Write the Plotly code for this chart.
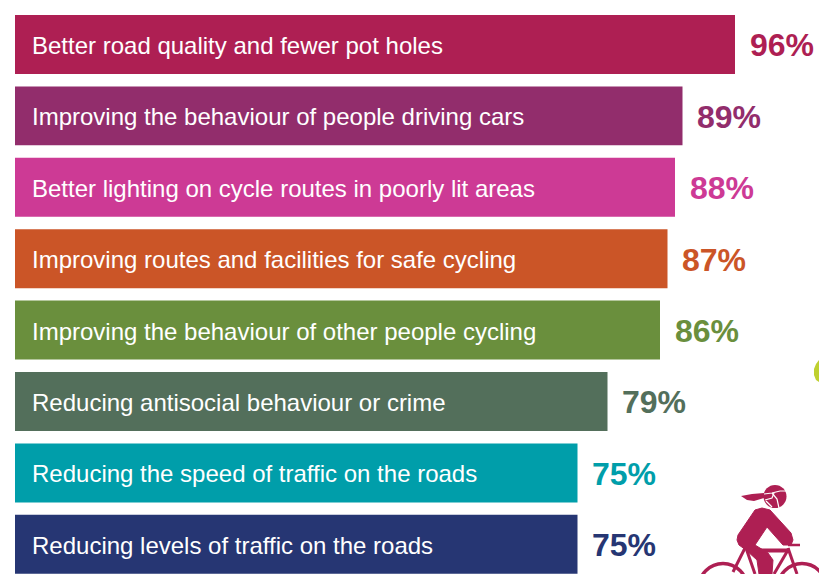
import plotly.graph_objects as go

categories = [
    "Better road quality and fewer pot holes",
    "Improving the behaviour of people driving cars",
    "Better lighting on cycle routes in poorly lit areas",
    "Improving routes and facilities for safe cycling",
    "Improving the behaviour of other people cycling",
    "Reducing antisocial behaviour or crime",
    "Reducing the speed of traffic on the roads",
    "Reducing levels of traffic on the roads",
]
values = [96, 89, 88, 87, 86, 79, 75, 75]
colors = ["#AE1F53", "#922D6C", "#CD3A95", "#CB5527", "#6A8F3D", "#536F5B", "#009EAA", "#263673"]

W, H = 819, 574
FONT = "Liberation Sans, Arial, sans-serif"
ICON = "#AE1F53"


def px(x, y):
    return f"{x / W:.5f},{1 - y / H:.5f}"


def path(points, close=True):
    d = "M" + " L".join(px(*p) for p in points)
    return d + (" Z" if close else "")


def circle(cx, cy, r, **kw):
    return dict(type="circle", xref="paper", yref="paper",
                x0=(cx - r) / W, x1=(cx + r) / W,
                y0=1 - (cy + r) / H, y1=1 - (cy - r) / H, **kw)


def poly(points, color=ICON, line=0, close=True, fill=True):
    return dict(type="path", xref="paper", yref="paper", path=path(points, close),
                fillcolor=color if fill else "rgba(0,0,0,0)",
                line=dict(color=color, width=line))


def stroke(points, width, color=ICON):
    return dict(type="path", xref="paper", yref="paper", path=path(points, False),
                line=dict(color=color, width=width))


shapes = [
    # lime blob at the right edge
    poly([(819, 360), (816, 364), (814, 369), (814, 375), (816, 380), (819, 382)], color="#BFD02F"),
    # wheels
    circle(723, 587.5, 24, fillcolor="rgba(0,0,0,0)", line=dict(color=ICON, width=3.5)),
    circle(802, 587.5, 24, fillcolor="rgba(0,0,0,0)", line=dict(color=ICON, width=3.5)),
    # frame
    stroke([(745, 548), (733, 572)], 3),
    stroke([(746, 548), (755, 574)], 3),
    stroke([(788, 548), (797, 574)], 3),
    stroke([(788, 550), (774, 574)], 3),
    # torso and arm
    poly([(755, 510), (762, 508), (770, 510), (791, 533), (793, 540), (791, 545), (783, 545),
          (767, 527), (755, 545), (768, 553), (773, 560), (772, 574), (759, 574),
          (757, 560), (746, 550), (739, 545), (737, 540), (738, 535)], line=1),
    # handlebar and top tube
    stroke([(755, 550.5), (790, 550.5)], 4),
    stroke([(788, 545), (800, 545)], 2.5),
    # head and helmet
    circle(775, 496.5, 11.5, fillcolor=ICON, line=dict(width=0)),
    stroke([(764, 494), (772, 493), (780, 491), (786, 491)], 1.2, "#FFFFFF"),
    stroke([(772, 493), (777, 499), (779, 508)], 1.2, "#FFFFFF"),
    stroke([(765, 500), (772, 498), (774, 493)], 1.2, "#FFFFFF"),
    stroke([(766, 501), (772, 507)], 1.2, "#FFFFFF"),
    # ponytail
    poly([(741, 496), (752, 494), (764, 493), (764, 498), (754, 501), (747, 500)]),
]

bars = go.Bar(
    y=list(range(len(values))), x=values, orientation="h",
    marker=dict(color=colors, line=dict(width=0)),
    width=0.826, hoverinfo="skip",
)

annotations = []
for i, (cat, val, col) in enumerate(zip(categories, values, colors)):
    annotations.append(dict(x=0, y=i, xref="x", yref="y", text=cat, showarrow=False,
                            xanchor="left", yanchor="middle", xshift=15, yshift=-1,
                            font=dict(family=FONT, size=24, color="#FFFFFF")))
    annotations.append(dict(x=val, y=i, xref="x", yref="y", text=f"<b>{val}%</b>", showarrow=False,
                            xanchor="left", yanchor="middle", xshift=12.5, yshift=-1,
                            font=dict(family=FONT, size=32, color=col)))

fig = go.Figure(bars)
fig.update_layout(
    width=W, height=H, autosize=False,
    margin=dict(l=0, r=0, t=0, b=0),
    paper_bgcolor="#FFFFFF", plot_bgcolor="#FFFFFF",
    showlegend=False, shapes=shapes, annotations=annotations,
    xaxis=dict(range=[-2, 107.2], visible=False, fixedrange=True),
    yaxis=dict(range=[7.416, -0.623], visible=False, fixedrange=True),
)
fig.write_html("out.html", config=dict(displayModeBar=False),
               post_script="document.body.style.margin='0';document.documentElement.style.overflow='hidden';")
